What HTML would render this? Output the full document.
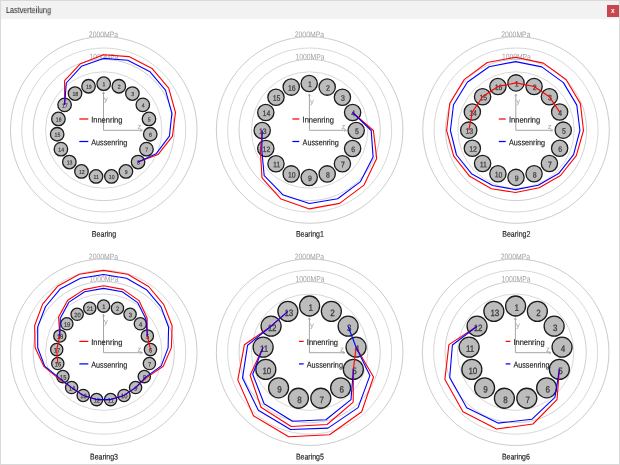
<!DOCTYPE html>
<html><head><meta charset="utf-8"><title>Lastverteilung</title>
<style>
html,body{margin:0;padding:0;background:#fff;}
body{width:620px;height:465px;position:relative;overflow:hidden;font-family:"Liberation Sans",sans-serif;}
#win{position:absolute;left:0;top:0;width:620px;height:465px;box-sizing:border-box;border:1px solid #d9d9d9;border-right-width:1.4px;border-bottom-width:1.4px;background:#fff;}
#tb{position:absolute;left:1px;top:1px;width:617.6px;height:18.0px;background:#f2f2f2;}
#title{will-change:transform;position:absolute;left:5.6px;top:5.7px;font-size:8.2px;line-height:10px;color:#1a1a1a;white-space:nowrap;transform-origin:left top;transform:rotate(0.3deg) scaleX(0.885);}
#close{will-change:transform;position:absolute;left:607.1px;top:4.9px;width:11.7px;height:11.6px;background:#c8464d;color:#fff;font-size:6.5px;line-height:11.4px;text-align:center;font-weight:bold;}
svg{position:absolute;left:0;top:0;will-change:transform;}
svg text{font-family:"Liberation Sans",sans-serif;}
</style></head><body>
<div id="win"></div>
<div id="tb"></div>
<div id="title">Lastverteilung</div>
<div id="close">x</div>
<svg width="620" height="465" viewBox="0 0 620 465">
<g>
<circle cx="103.75" cy="130.0" r="58.2" fill="none" stroke="#cbcbcb" stroke-width="0.75"/>
<circle cx="103.75" cy="130.0" r="70.6" fill="none" stroke="#bfbfbf" stroke-width="0.75"/>
<circle cx="103.75" cy="130.0" r="82.0" fill="none" stroke="#cbcbcb" stroke-width="0.75"/>
<circle cx="103.75" cy="130.0" r="93.3" fill="none" stroke="#b9b9b9" stroke-width="0.75"/>
<text transform="translate(103.50,37.20) rotate(0.35)" font-size="8.2" fill="#a2a2a2" text-anchor="middle" textLength="29.3" lengthAdjust="spacingAndGlyphs">2000MPa</text>
<text transform="translate(104.10,59.60) rotate(0.35)" font-size="8.2" fill="#a2a2a2" text-anchor="middle" textLength="29.0" lengthAdjust="spacingAndGlyphs">1000MPa</text>
<circle cx="103.70" cy="83.70" r="6.75" fill="#bcbcbc" stroke="#1c1c1c" stroke-width="1.3"/>
<text transform="translate(103.95,86.25) rotate(0.4) scale(0.9,1)" text-anchor="middle" font-size="5.7" fill="#3a3a3a" stroke="#3a3a3a" stroke-width="0.17">1</text>
<circle cx="118.86" cy="86.23" r="6.75" fill="#bcbcbc" stroke="#1c1c1c" stroke-width="1.3"/>
<text transform="translate(119.11,88.78) rotate(0.4) scale(0.9,1)" text-anchor="middle" font-size="5.7" fill="#3a3a3a" stroke="#3a3a3a" stroke-width="0.17">2</text>
<circle cx="132.38" cy="93.55" r="6.75" fill="#bcbcbc" stroke="#1c1c1c" stroke-width="1.3"/>
<text transform="translate(132.63,96.10) rotate(0.4) scale(0.9,1)" text-anchor="middle" font-size="5.7" fill="#3a3a3a" stroke="#3a3a3a" stroke-width="0.17">3</text>
<circle cx="142.80" cy="104.86" r="6.75" fill="#bcbcbc" stroke="#1c1c1c" stroke-width="1.3"/>
<text transform="translate(143.05,107.41) rotate(0.4) scale(0.9,1)" text-anchor="middle" font-size="5.7" fill="#3a3a3a" stroke="#3a3a3a" stroke-width="0.17">4</text>
<circle cx="148.97" cy="118.94" r="6.75" fill="#bcbcbc" stroke="#1c1c1c" stroke-width="1.3"/>
<text transform="translate(149.22,121.49) rotate(0.4) scale(0.9,1)" text-anchor="middle" font-size="5.7" fill="#3a3a3a" stroke="#3a3a3a" stroke-width="0.17">5</text>
<circle cx="150.24" cy="134.26" r="6.75" fill="#bcbcbc" stroke="#1c1c1c" stroke-width="1.3"/>
<text transform="translate(150.49,136.81) rotate(0.4) scale(0.9,1)" text-anchor="middle" font-size="5.7" fill="#3a3a3a" stroke="#3a3a3a" stroke-width="0.17">6</text>
<circle cx="146.47" cy="149.16" r="6.75" fill="#bcbcbc" stroke="#1c1c1c" stroke-width="1.3"/>
<text transform="translate(146.72,151.71) rotate(0.4) scale(0.9,1)" text-anchor="middle" font-size="5.7" fill="#3a3a3a" stroke="#3a3a3a" stroke-width="0.17">7</text>
<circle cx="138.06" cy="162.03" r="6.75" fill="#bcbcbc" stroke="#1c1c1c" stroke-width="1.3"/>
<text transform="translate(138.31,164.58) rotate(0.4) scale(0.9,1)" text-anchor="middle" font-size="5.7" fill="#3a3a3a" stroke="#3a3a3a" stroke-width="0.17">8</text>
<circle cx="125.93" cy="171.47" r="6.75" fill="#bcbcbc" stroke="#1c1c1c" stroke-width="1.3"/>
<text transform="translate(126.18,174.02) rotate(0.4) scale(0.9,1)" text-anchor="middle" font-size="5.7" fill="#3a3a3a" stroke="#3a3a3a" stroke-width="0.17">9</text>
<circle cx="111.39" cy="176.46" r="6.75" fill="#bcbcbc" stroke="#1c1c1c" stroke-width="1.3"/>
<text transform="translate(111.64,179.01) rotate(0.4) scale(0.9,1)" text-anchor="middle" font-size="5.7" fill="#3a3a3a" stroke="#3a3a3a" stroke-width="0.17">10</text>
<circle cx="96.01" cy="176.46" r="6.75" fill="#bcbcbc" stroke="#1c1c1c" stroke-width="1.3"/>
<text transform="translate(96.26,179.01) rotate(0.4) scale(0.9,1)" text-anchor="middle" font-size="5.7" fill="#3a3a3a" stroke="#3a3a3a" stroke-width="0.17">11</text>
<circle cx="81.47" cy="171.47" r="6.75" fill="#bcbcbc" stroke="#1c1c1c" stroke-width="1.3"/>
<text transform="translate(81.72,174.02) rotate(0.4) scale(0.9,1)" text-anchor="middle" font-size="5.7" fill="#3a3a3a" stroke="#3a3a3a" stroke-width="0.17">12</text>
<circle cx="69.34" cy="162.03" r="6.75" fill="#bcbcbc" stroke="#1c1c1c" stroke-width="1.3"/>
<text transform="translate(69.59,164.58) rotate(0.4) scale(0.9,1)" text-anchor="middle" font-size="5.7" fill="#3a3a3a" stroke="#3a3a3a" stroke-width="0.17">13</text>
<circle cx="60.93" cy="149.16" r="6.75" fill="#bcbcbc" stroke="#1c1c1c" stroke-width="1.3"/>
<text transform="translate(61.18,151.71) rotate(0.4) scale(0.9,1)" text-anchor="middle" font-size="5.7" fill="#3a3a3a" stroke="#3a3a3a" stroke-width="0.17">14</text>
<circle cx="57.16" cy="134.26" r="6.75" fill="#bcbcbc" stroke="#1c1c1c" stroke-width="1.3"/>
<text transform="translate(57.41,136.81) rotate(0.4) scale(0.9,1)" text-anchor="middle" font-size="5.7" fill="#3a3a3a" stroke="#3a3a3a" stroke-width="0.17">15</text>
<circle cx="58.43" cy="118.94" r="6.75" fill="#bcbcbc" stroke="#1c1c1c" stroke-width="1.3"/>
<text transform="translate(58.68,121.49) rotate(0.4) scale(0.9,1)" text-anchor="middle" font-size="5.7" fill="#3a3a3a" stroke="#3a3a3a" stroke-width="0.17">16</text>
<circle cx="64.60" cy="104.86" r="6.75" fill="#bcbcbc" stroke="#1c1c1c" stroke-width="1.3"/>
<text transform="translate(64.85,107.41) rotate(0.4) scale(0.9,1)" text-anchor="middle" font-size="5.7" fill="#3a3a3a" stroke="#3a3a3a" stroke-width="0.17">17</text>
<circle cx="75.02" cy="93.55" r="6.75" fill="#bcbcbc" stroke="#1c1c1c" stroke-width="1.3"/>
<text transform="translate(75.27,96.10) rotate(0.4) scale(0.9,1)" text-anchor="middle" font-size="5.7" fill="#3a3a3a" stroke="#3a3a3a" stroke-width="0.17">18</text>
<circle cx="88.54" cy="86.23" r="6.75" fill="#bcbcbc" stroke="#1c1c1c" stroke-width="1.3"/>
<text transform="translate(88.79,88.78) rotate(0.4) scale(0.9,1)" text-anchor="middle" font-size="5.7" fill="#3a3a3a" stroke="#3a3a3a" stroke-width="0.17">19</text>
<path d="M103.5 91.80000000000001 V130.3 H142.5" fill="none" stroke="#a6a6a6" stroke-width="1.0"/>
<path d="M102.3 94.00000000000001 L103.5 91.80000000000001 L104.7 94.00000000000001" fill="none" stroke="#a6a6a6" stroke-width="0.7"/>
<path d="M140.3 129.10000000000002 L142.5 130.3 L140.3 131.5" fill="none" stroke="#a6a6a6" stroke-width="0.7"/>
<text transform="translate(104.00,101.60) rotate(0.35)" font-size="7.6" fill="#a2a2a2">y</text>
<text transform="translate(137.50,128.90) rotate(0.35)" font-size="7.6" fill="#a2a2a2">z</text>
<line x1="79.3" y1="119.0" x2="88.3" y2="119.0" stroke="#ff0000" stroke-width="1.25"/>
<line x1="79.3" y1="141.5" x2="88.3" y2="141.5" stroke="#0000ff" stroke-width="1.25"/>
<text transform="translate(91.20,122.60) rotate(0.35)" font-size="8.3" fill="#1a1a1a" textLength="31.2" lengthAdjust="spacingAndGlyphs" stroke="#1a1a1a" stroke-width="0.15">Innenring</text>
<text transform="translate(91.20,145.20) rotate(0.35)" font-size="8.3" fill="#1a1a1a" textLength="36.1" lengthAdjust="spacingAndGlyphs" stroke="#1a1a1a" stroke-width="0.15">Aussenring</text>
<polyline points="64.6,104.9 64.6,80.7 80.5,63.7 103.5,54.8 128.9,56.6 152.0,68.4 168.7,88.1 175.5,112.5 172.4,136.4 158.0,154.6 138.1,162.0" fill="none" stroke="#ff0000" stroke-width="1.1" stroke-linejoin="round"/>
<polyline points="64.6,104.9 66.3,83.0 81.4,66.3 103.5,58.4 127.7,60.2 149.6,71.4 165.5,90.2 171.9,113.4 169.4,136.2 156.1,153.8 138.1,162.0" fill="none" stroke="#0000ff" stroke-width="1.1" stroke-linejoin="round"/>
<text transform="translate(104.00,236.80) rotate(0.35)" font-size="8.3" fill="#1a1a1a" text-anchor="middle" textLength="24.3" lengthAdjust="spacingAndGlyphs" stroke="#1a1a1a" stroke-width="0.15">Bearing</text>
</g>
<g>
<circle cx="309.65" cy="130.0" r="58.2" fill="none" stroke="#cbcbcb" stroke-width="0.75"/>
<circle cx="309.65" cy="130.0" r="70.6" fill="none" stroke="#bfbfbf" stroke-width="0.75"/>
<circle cx="309.65" cy="130.0" r="82.0" fill="none" stroke="#cbcbcb" stroke-width="0.75"/>
<circle cx="309.65" cy="130.0" r="93.3" fill="none" stroke="#b9b9b9" stroke-width="0.75"/>
<text transform="translate(309.40,37.20) rotate(0.35)" font-size="8.2" fill="#a2a2a2" text-anchor="middle" textLength="29.3" lengthAdjust="spacingAndGlyphs">2000MPa</text>
<text transform="translate(310.00,59.60) rotate(0.35)" font-size="8.2" fill="#a2a2a2" text-anchor="middle" textLength="29.0" lengthAdjust="spacingAndGlyphs">1000MPa</text>
<circle cx="309.20" cy="83.50" r="8.15" fill="#bcbcbc" stroke="#1c1c1c" stroke-width="1.3"/>
<text transform="translate(309.80,87.10) rotate(0.4) scale(0.87,1)" text-anchor="middle" font-size="7.9" fill="#3a3a3a" stroke="#3a3a3a" stroke-width="0.24">1</text>
<circle cx="327.19" cy="87.08" r="8.15" fill="#bcbcbc" stroke="#1c1c1c" stroke-width="1.3"/>
<text transform="translate(327.79,90.68) rotate(0.4) scale(0.87,1)" text-anchor="middle" font-size="7.9" fill="#3a3a3a" stroke="#3a3a3a" stroke-width="0.24">2</text>
<circle cx="342.43" cy="97.27" r="8.15" fill="#bcbcbc" stroke="#1c1c1c" stroke-width="1.3"/>
<text transform="translate(343.03,100.87) rotate(0.4) scale(0.87,1)" text-anchor="middle" font-size="7.9" fill="#3a3a3a" stroke="#3a3a3a" stroke-width="0.24">3</text>
<circle cx="352.62" cy="112.51" r="8.15" fill="#bcbcbc" stroke="#1c1c1c" stroke-width="1.3"/>
<text transform="translate(353.22,116.11) rotate(0.4) scale(0.87,1)" text-anchor="middle" font-size="7.9" fill="#3a3a3a" stroke="#3a3a3a" stroke-width="0.24">4</text>
<circle cx="356.20" cy="130.50" r="8.15" fill="#bcbcbc" stroke="#1c1c1c" stroke-width="1.3"/>
<text transform="translate(356.80,134.10) rotate(0.4) scale(0.87,1)" text-anchor="middle" font-size="7.9" fill="#3a3a3a" stroke="#3a3a3a" stroke-width="0.24">5</text>
<circle cx="352.62" cy="148.49" r="8.15" fill="#bcbcbc" stroke="#1c1c1c" stroke-width="1.3"/>
<text transform="translate(353.22,152.09) rotate(0.4) scale(0.87,1)" text-anchor="middle" font-size="7.9" fill="#3a3a3a" stroke="#3a3a3a" stroke-width="0.24">6</text>
<circle cx="342.43" cy="163.73" r="8.15" fill="#bcbcbc" stroke="#1c1c1c" stroke-width="1.3"/>
<text transform="translate(343.03,167.33) rotate(0.4) scale(0.87,1)" text-anchor="middle" font-size="7.9" fill="#3a3a3a" stroke="#3a3a3a" stroke-width="0.24">7</text>
<circle cx="327.19" cy="173.92" r="8.15" fill="#bcbcbc" stroke="#1c1c1c" stroke-width="1.3"/>
<text transform="translate(327.79,177.52) rotate(0.4) scale(0.87,1)" text-anchor="middle" font-size="7.9" fill="#3a3a3a" stroke="#3a3a3a" stroke-width="0.24">8</text>
<circle cx="309.20" cy="177.50" r="8.15" fill="#bcbcbc" stroke="#1c1c1c" stroke-width="1.3"/>
<text transform="translate(309.80,181.10) rotate(0.4) scale(0.87,1)" text-anchor="middle" font-size="7.9" fill="#3a3a3a" stroke="#3a3a3a" stroke-width="0.24">9</text>
<circle cx="291.21" cy="173.92" r="8.15" fill="#bcbcbc" stroke="#1c1c1c" stroke-width="1.3"/>
<text transform="translate(291.81,177.52) rotate(0.4) scale(0.87,1)" text-anchor="middle" font-size="7.9" fill="#3a3a3a" stroke="#3a3a3a" stroke-width="0.24">10</text>
<circle cx="275.97" cy="163.73" r="8.15" fill="#bcbcbc" stroke="#1c1c1c" stroke-width="1.3"/>
<text transform="translate(276.57,167.33) rotate(0.4) scale(0.87,1)" text-anchor="middle" font-size="7.9" fill="#3a3a3a" stroke="#3a3a3a" stroke-width="0.24">11</text>
<circle cx="265.78" cy="148.49" r="8.15" fill="#bcbcbc" stroke="#1c1c1c" stroke-width="1.3"/>
<text transform="translate(266.38,152.09) rotate(0.4) scale(0.87,1)" text-anchor="middle" font-size="7.9" fill="#3a3a3a" stroke="#3a3a3a" stroke-width="0.24">12</text>
<circle cx="262.20" cy="130.50" r="8.15" fill="#bcbcbc" stroke="#1c1c1c" stroke-width="1.3"/>
<text transform="translate(262.80,134.10) rotate(0.4) scale(0.87,1)" text-anchor="middle" font-size="7.9" fill="#3a3a3a" stroke="#3a3a3a" stroke-width="0.24">13</text>
<circle cx="265.78" cy="112.51" r="8.15" fill="#bcbcbc" stroke="#1c1c1c" stroke-width="1.3"/>
<text transform="translate(266.38,116.11) rotate(0.4) scale(0.87,1)" text-anchor="middle" font-size="7.9" fill="#3a3a3a" stroke="#3a3a3a" stroke-width="0.24">14</text>
<circle cx="275.97" cy="97.27" r="8.15" fill="#bcbcbc" stroke="#1c1c1c" stroke-width="1.3"/>
<text transform="translate(276.57,100.87) rotate(0.4) scale(0.87,1)" text-anchor="middle" font-size="7.9" fill="#3a3a3a" stroke="#3a3a3a" stroke-width="0.24">15</text>
<circle cx="291.21" cy="87.08" r="8.15" fill="#bcbcbc" stroke="#1c1c1c" stroke-width="1.3"/>
<text transform="translate(291.81,90.68) rotate(0.4) scale(0.87,1)" text-anchor="middle" font-size="7.9" fill="#3a3a3a" stroke="#3a3a3a" stroke-width="0.24">16</text>
<path d="M309.4 94.00000000000001 V130.3 H346.4" fill="none" stroke="#a6a6a6" stroke-width="1.0"/>
<path d="M308.2 96.20000000000002 L309.4 94.00000000000001 L310.59999999999997 96.20000000000002" fill="none" stroke="#a6a6a6" stroke-width="0.7"/>
<path d="M344.2 129.10000000000002 L346.4 130.3 L344.2 131.5" fill="none" stroke="#a6a6a6" stroke-width="0.7"/>
<text transform="translate(309.90,103.80) rotate(0.35)" font-size="7.6" fill="#a2a2a2">y</text>
<text transform="translate(341.40,128.90) rotate(0.35)" font-size="7.6" fill="#a2a2a2">z</text>
<line x1="292.4" y1="119.0" x2="299.3" y2="119.0" stroke="#ff0000" stroke-width="1.25"/>
<line x1="292.4" y1="141.5" x2="299.3" y2="141.5" stroke="#0000ff" stroke-width="1.25"/>
<text transform="translate(302.60,122.60) rotate(0.35)" font-size="8.3" fill="#1a1a1a" textLength="31.2" lengthAdjust="spacingAndGlyphs" stroke="#1a1a1a" stroke-width="0.15">Innenring</text>
<text transform="translate(302.60,145.20) rotate(0.35)" font-size="8.3" fill="#1a1a1a" textLength="36.1" lengthAdjust="spacingAndGlyphs" stroke="#1a1a1a" stroke-width="0.15">Aussenring</text>
<polyline points="352.6,112.5 373.4,130.5 376.7,158.4 364.0,185.1 339.6,203.4 309.4,208.9 281.0,199.1 262.0,177.9 260.4,150.8 262.2,130.5" fill="none" stroke="#ff0000" stroke-width="1.1" stroke-linejoin="round"/>
<polyline points="352.6,112.5 371.2,130.5 373.1,156.9 360.5,181.6 337.7,198.8 309.4,203.5 282.8,194.7 264.2,175.7 261.8,150.2 262.2,130.5" fill="none" stroke="#0000ff" stroke-width="1.1" stroke-linejoin="round"/>
<text transform="translate(309.90,236.80) rotate(0.35)" font-size="8.3" fill="#1a1a1a" text-anchor="middle" textLength="28.0" lengthAdjust="spacingAndGlyphs" stroke="#1a1a1a" stroke-width="0.15">Bearing1</text>
</g>
<g>
<circle cx="516.05" cy="130.0" r="58.2" fill="none" stroke="#cbcbcb" stroke-width="0.75"/>
<circle cx="516.05" cy="130.0" r="70.6" fill="none" stroke="#bfbfbf" stroke-width="0.75"/>
<circle cx="516.05" cy="130.0" r="82.0" fill="none" stroke="#cbcbcb" stroke-width="0.75"/>
<circle cx="516.05" cy="130.0" r="93.3" fill="none" stroke="#b9b9b9" stroke-width="0.75"/>
<text transform="translate(515.80,37.20) rotate(0.35)" font-size="8.2" fill="#a2a2a2" text-anchor="middle" textLength="29.3" lengthAdjust="spacingAndGlyphs">2000MPa</text>
<text transform="translate(516.40,59.60) rotate(0.35)" font-size="8.2" fill="#a2a2a2" text-anchor="middle" textLength="29.0" lengthAdjust="spacingAndGlyphs">1000MPa</text>
<circle cx="516.00" cy="82.90" r="8.15" fill="#bcbcbc" stroke="#1c1c1c" stroke-width="1.3"/>
<text transform="translate(516.60,86.50) rotate(0.4) scale(0.87,1)" text-anchor="middle" font-size="7.9" fill="#3a3a3a" stroke="#3a3a3a" stroke-width="0.24">1</text>
<circle cx="534.08" cy="86.50" r="8.15" fill="#bcbcbc" stroke="#1c1c1c" stroke-width="1.3"/>
<text transform="translate(534.68,90.10) rotate(0.4) scale(0.87,1)" text-anchor="middle" font-size="7.9" fill="#3a3a3a" stroke="#3a3a3a" stroke-width="0.24">2</text>
<circle cx="549.41" cy="96.74" r="8.15" fill="#bcbcbc" stroke="#1c1c1c" stroke-width="1.3"/>
<text transform="translate(550.01,100.34) rotate(0.4) scale(0.87,1)" text-anchor="middle" font-size="7.9" fill="#3a3a3a" stroke="#3a3a3a" stroke-width="0.24">3</text>
<circle cx="559.65" cy="112.07" r="8.15" fill="#bcbcbc" stroke="#1c1c1c" stroke-width="1.3"/>
<text transform="translate(560.25,115.67) rotate(0.4) scale(0.87,1)" text-anchor="middle" font-size="7.9" fill="#3a3a3a" stroke="#3a3a3a" stroke-width="0.24">4</text>
<circle cx="563.25" cy="130.15" r="8.15" fill="#bcbcbc" stroke="#1c1c1c" stroke-width="1.3"/>
<text transform="translate(563.85,133.75) rotate(0.4) scale(0.87,1)" text-anchor="middle" font-size="7.9" fill="#3a3a3a" stroke="#3a3a3a" stroke-width="0.24">5</text>
<circle cx="559.65" cy="148.23" r="8.15" fill="#bcbcbc" stroke="#1c1c1c" stroke-width="1.3"/>
<text transform="translate(560.25,151.83) rotate(0.4) scale(0.87,1)" text-anchor="middle" font-size="7.9" fill="#3a3a3a" stroke="#3a3a3a" stroke-width="0.24">6</text>
<circle cx="549.41" cy="163.56" r="8.15" fill="#bcbcbc" stroke="#1c1c1c" stroke-width="1.3"/>
<text transform="translate(550.01,167.16) rotate(0.4) scale(0.87,1)" text-anchor="middle" font-size="7.9" fill="#3a3a3a" stroke="#3a3a3a" stroke-width="0.24">7</text>
<circle cx="534.08" cy="173.80" r="8.15" fill="#bcbcbc" stroke="#1c1c1c" stroke-width="1.3"/>
<text transform="translate(534.68,177.40) rotate(0.4) scale(0.87,1)" text-anchor="middle" font-size="7.9" fill="#3a3a3a" stroke="#3a3a3a" stroke-width="0.24">8</text>
<circle cx="516.00" cy="177.40" r="8.15" fill="#bcbcbc" stroke="#1c1c1c" stroke-width="1.3"/>
<text transform="translate(516.60,181.00) rotate(0.4) scale(0.87,1)" text-anchor="middle" font-size="7.9" fill="#3a3a3a" stroke="#3a3a3a" stroke-width="0.24">9</text>
<circle cx="497.92" cy="173.80" r="8.15" fill="#bcbcbc" stroke="#1c1c1c" stroke-width="1.3"/>
<text transform="translate(498.52,177.40) rotate(0.4) scale(0.87,1)" text-anchor="middle" font-size="7.9" fill="#3a3a3a" stroke="#3a3a3a" stroke-width="0.24">10</text>
<circle cx="482.59" cy="163.56" r="8.15" fill="#bcbcbc" stroke="#1c1c1c" stroke-width="1.3"/>
<text transform="translate(483.19,167.16) rotate(0.4) scale(0.87,1)" text-anchor="middle" font-size="7.9" fill="#3a3a3a" stroke="#3a3a3a" stroke-width="0.24">11</text>
<circle cx="472.35" cy="148.23" r="8.15" fill="#bcbcbc" stroke="#1c1c1c" stroke-width="1.3"/>
<text transform="translate(472.95,151.83) rotate(0.4) scale(0.87,1)" text-anchor="middle" font-size="7.9" fill="#3a3a3a" stroke="#3a3a3a" stroke-width="0.24">12</text>
<circle cx="468.75" cy="130.15" r="8.15" fill="#bcbcbc" stroke="#1c1c1c" stroke-width="1.3"/>
<text transform="translate(469.35,133.75) rotate(0.4) scale(0.87,1)" text-anchor="middle" font-size="7.9" fill="#3a3a3a" stroke="#3a3a3a" stroke-width="0.24">13</text>
<circle cx="472.35" cy="112.07" r="8.15" fill="#bcbcbc" stroke="#1c1c1c" stroke-width="1.3"/>
<text transform="translate(472.95,115.67) rotate(0.4) scale(0.87,1)" text-anchor="middle" font-size="7.9" fill="#3a3a3a" stroke="#3a3a3a" stroke-width="0.24">14</text>
<circle cx="482.59" cy="96.74" r="8.15" fill="#bcbcbc" stroke="#1c1c1c" stroke-width="1.3"/>
<text transform="translate(483.19,100.34) rotate(0.4) scale(0.87,1)" text-anchor="middle" font-size="7.9" fill="#3a3a3a" stroke="#3a3a3a" stroke-width="0.24">15</text>
<circle cx="497.92" cy="86.50" r="8.15" fill="#bcbcbc" stroke="#1c1c1c" stroke-width="1.3"/>
<text transform="translate(498.52,90.10) rotate(0.4) scale(0.87,1)" text-anchor="middle" font-size="7.9" fill="#3a3a3a" stroke="#3a3a3a" stroke-width="0.24">16</text>
<path d="M515.8 94.00000000000001 V130.3 H552.8" fill="none" stroke="#a6a6a6" stroke-width="1.0"/>
<path d="M514.5999999999999 96.20000000000002 L515.8 94.00000000000001 L517.0 96.20000000000002" fill="none" stroke="#a6a6a6" stroke-width="0.7"/>
<path d="M550.5999999999999 129.10000000000002 L552.8 130.3 L550.5999999999999 131.5" fill="none" stroke="#a6a6a6" stroke-width="0.7"/>
<text transform="translate(516.30,103.80) rotate(0.35)" font-size="7.6" fill="#a2a2a2">y</text>
<text transform="translate(547.80,128.90) rotate(0.35)" font-size="7.6" fill="#a2a2a2">z</text>
<line x1="498.8" y1="119.0" x2="505.7" y2="119.0" stroke="#ff0000" stroke-width="1.25"/>
<line x1="498.8" y1="141.5" x2="505.7" y2="141.5" stroke="#0000ff" stroke-width="1.25"/>
<text transform="translate(509.00,122.60) rotate(0.35)" font-size="8.3" fill="#1a1a1a" textLength="31.2" lengthAdjust="spacingAndGlyphs" stroke="#1a1a1a" stroke-width="0.15">Innenring</text>
<text transform="translate(509.00,145.20) rotate(0.35)" font-size="8.3" fill="#1a1a1a" textLength="36.1" lengthAdjust="spacingAndGlyphs" stroke="#1a1a1a" stroke-width="0.15">Aussenring</text>
<polyline points="468.8,130.2 472.3,112.1 482.6,96.7 497.9,86.5 516.0,82.9 534.1,86.5 549.4,96.7 559.7,112.1" fill="none" stroke="#ff0000" stroke-width="1.1" stroke-linejoin="round"/>
<polygon points="515.5,57.2 543.4,63.1 566.2,79.8 580.4,103.6 583.5,130.5 576.3,155.7 560.5,175.5 539.2,187.7 515.5,192.5 491.4,188.7 469.7,176.3 453.7,156.1 446.6,130.5 449.8,103.3 464.4,79.4 487.3,62.5" fill="none" stroke="#ff0000" stroke-width="1.1" stroke-linejoin="round"/>
<polygon points="515.5,61.6 541.8,66.9 563.4,82.6 576.8,105.1 579.9,130.5 573.6,154.6 558.6,173.6 538.2,185.2 515.5,189.6 492.7,185.5 471.9,174.1 456.5,155.0 450.4,130.5 453.5,104.8 467.3,82.3 489.1,66.8" fill="none" stroke="#0000ff" stroke-width="1.1" stroke-linejoin="round"/>
<text transform="translate(516.30,236.80) rotate(0.35)" font-size="8.3" fill="#1a1a1a" text-anchor="middle" textLength="28.0" lengthAdjust="spacingAndGlyphs" stroke="#1a1a1a" stroke-width="0.15">Bearing2</text>
</g>
<g>
<circle cx="103.75" cy="352.2" r="58.2" fill="none" stroke="#cbcbcb" stroke-width="0.75"/>
<circle cx="103.75" cy="352.2" r="70.6" fill="none" stroke="#bfbfbf" stroke-width="0.75"/>
<circle cx="103.75" cy="352.2" r="82.0" fill="none" stroke="#cbcbcb" stroke-width="0.75"/>
<circle cx="103.75" cy="352.2" r="93.3" fill="none" stroke="#b9b9b9" stroke-width="0.75"/>
<text transform="translate(103.50,259.40) rotate(0.35)" font-size="8.2" fill="#a2a2a2" text-anchor="middle" textLength="29.3" lengthAdjust="spacingAndGlyphs">2000MPa</text>
<text transform="translate(104.10,281.80) rotate(0.35)" font-size="8.2" fill="#a2a2a2" text-anchor="middle" textLength="29.0" lengthAdjust="spacingAndGlyphs">1000MPa</text>
<circle cx="103.60" cy="306.10" r="6.15" fill="#bcbcbc" stroke="#1c1c1c" stroke-width="1.3"/>
<text transform="translate(103.85,309.00) rotate(0.4) scale(0.9,1)" text-anchor="middle" font-size="6.4" fill="#3a3a3a" stroke="#3a3a3a" stroke-width="0.19">1</text>
<circle cx="117.45" cy="308.19" r="6.15" fill="#bcbcbc" stroke="#1c1c1c" stroke-width="1.3"/>
<text transform="translate(117.70,311.09) rotate(0.4) scale(0.9,1)" text-anchor="middle" font-size="6.4" fill="#3a3a3a" stroke="#3a3a3a" stroke-width="0.19">2</text>
<circle cx="130.08" cy="314.27" r="6.15" fill="#bcbcbc" stroke="#1c1c1c" stroke-width="1.3"/>
<text transform="translate(130.33,317.17) rotate(0.4) scale(0.9,1)" text-anchor="middle" font-size="6.4" fill="#3a3a3a" stroke="#3a3a3a" stroke-width="0.19">3</text>
<circle cx="140.35" cy="323.80" r="6.15" fill="#bcbcbc" stroke="#1c1c1c" stroke-width="1.3"/>
<text transform="translate(140.60,326.70) rotate(0.4) scale(0.9,1)" text-anchor="middle" font-size="6.4" fill="#3a3a3a" stroke="#3a3a3a" stroke-width="0.19">4</text>
<circle cx="147.35" cy="335.93" r="6.15" fill="#bcbcbc" stroke="#1c1c1c" stroke-width="1.3"/>
<text transform="translate(147.60,338.83) rotate(0.4) scale(0.9,1)" text-anchor="middle" font-size="6.4" fill="#3a3a3a" stroke="#3a3a3a" stroke-width="0.19">5</text>
<circle cx="150.47" cy="349.59" r="6.15" fill="#bcbcbc" stroke="#1c1c1c" stroke-width="1.3"/>
<text transform="translate(150.72,352.49) rotate(0.4) scale(0.9,1)" text-anchor="middle" font-size="6.4" fill="#3a3a3a" stroke="#3a3a3a" stroke-width="0.19">6</text>
<circle cx="149.42" cy="363.56" r="6.15" fill="#bcbcbc" stroke="#1c1c1c" stroke-width="1.3"/>
<text transform="translate(149.67,366.46) rotate(0.4) scale(0.9,1)" text-anchor="middle" font-size="6.4" fill="#3a3a3a" stroke="#3a3a3a" stroke-width="0.19">7</text>
<circle cx="144.30" cy="376.60" r="6.15" fill="#bcbcbc" stroke="#1c1c1c" stroke-width="1.3"/>
<text transform="translate(144.55,379.50) rotate(0.4) scale(0.9,1)" text-anchor="middle" font-size="6.4" fill="#3a3a3a" stroke="#3a3a3a" stroke-width="0.19">8</text>
<circle cx="135.57" cy="387.55" r="6.15" fill="#bcbcbc" stroke="#1c1c1c" stroke-width="1.3"/>
<text transform="translate(135.82,390.45) rotate(0.4) scale(0.9,1)" text-anchor="middle" font-size="6.4" fill="#3a3a3a" stroke="#3a3a3a" stroke-width="0.19">9</text>
<circle cx="123.99" cy="395.45" r="6.15" fill="#bcbcbc" stroke="#1c1c1c" stroke-width="1.3"/>
<text transform="translate(124.24,398.35) rotate(0.4) scale(0.9,1)" text-anchor="middle" font-size="6.4" fill="#3a3a3a" stroke="#3a3a3a" stroke-width="0.19">10</text>
<circle cx="110.60" cy="399.58" r="6.15" fill="#bcbcbc" stroke="#1c1c1c" stroke-width="1.3"/>
<text transform="translate(110.85,402.48) rotate(0.4) scale(0.9,1)" text-anchor="middle" font-size="6.4" fill="#3a3a3a" stroke="#3a3a3a" stroke-width="0.19">11</text>
<circle cx="96.60" cy="399.58" r="6.15" fill="#bcbcbc" stroke="#1c1c1c" stroke-width="1.3"/>
<text transform="translate(96.85,402.48) rotate(0.4) scale(0.9,1)" text-anchor="middle" font-size="6.4" fill="#3a3a3a" stroke="#3a3a3a" stroke-width="0.19">12</text>
<circle cx="83.21" cy="395.45" r="6.15" fill="#bcbcbc" stroke="#1c1c1c" stroke-width="1.3"/>
<text transform="translate(83.46,398.35) rotate(0.4) scale(0.9,1)" text-anchor="middle" font-size="6.4" fill="#3a3a3a" stroke="#3a3a3a" stroke-width="0.19">13</text>
<circle cx="71.63" cy="387.55" r="6.15" fill="#bcbcbc" stroke="#1c1c1c" stroke-width="1.3"/>
<text transform="translate(71.88,390.45) rotate(0.4) scale(0.9,1)" text-anchor="middle" font-size="6.4" fill="#3a3a3a" stroke="#3a3a3a" stroke-width="0.19">14</text>
<circle cx="62.90" cy="376.60" r="6.15" fill="#bcbcbc" stroke="#1c1c1c" stroke-width="1.3"/>
<text transform="translate(63.15,379.50) rotate(0.4) scale(0.9,1)" text-anchor="middle" font-size="6.4" fill="#3a3a3a" stroke="#3a3a3a" stroke-width="0.19">15</text>
<circle cx="57.78" cy="363.56" r="6.15" fill="#bcbcbc" stroke="#1c1c1c" stroke-width="1.3"/>
<text transform="translate(58.03,366.46) rotate(0.4) scale(0.9,1)" text-anchor="middle" font-size="6.4" fill="#3a3a3a" stroke="#3a3a3a" stroke-width="0.19">16</text>
<circle cx="56.73" cy="349.59" r="6.15" fill="#bcbcbc" stroke="#1c1c1c" stroke-width="1.3"/>
<text transform="translate(56.98,352.49) rotate(0.4) scale(0.9,1)" text-anchor="middle" font-size="6.4" fill="#3a3a3a" stroke="#3a3a3a" stroke-width="0.19">17</text>
<circle cx="59.85" cy="335.93" r="6.15" fill="#bcbcbc" stroke="#1c1c1c" stroke-width="1.3"/>
<text transform="translate(60.10,338.83) rotate(0.4) scale(0.9,1)" text-anchor="middle" font-size="6.4" fill="#3a3a3a" stroke="#3a3a3a" stroke-width="0.19">18</text>
<circle cx="66.85" cy="323.80" r="6.15" fill="#bcbcbc" stroke="#1c1c1c" stroke-width="1.3"/>
<text transform="translate(67.10,326.70) rotate(0.4) scale(0.9,1)" text-anchor="middle" font-size="6.4" fill="#3a3a3a" stroke="#3a3a3a" stroke-width="0.19">19</text>
<circle cx="77.12" cy="314.27" r="6.15" fill="#bcbcbc" stroke="#1c1c1c" stroke-width="1.3"/>
<text transform="translate(77.37,317.17) rotate(0.4) scale(0.9,1)" text-anchor="middle" font-size="6.4" fill="#3a3a3a" stroke="#3a3a3a" stroke-width="0.19">20</text>
<circle cx="89.75" cy="308.19" r="6.15" fill="#bcbcbc" stroke="#1c1c1c" stroke-width="1.3"/>
<text transform="translate(90.00,311.09) rotate(0.4) scale(0.9,1)" text-anchor="middle" font-size="6.4" fill="#3a3a3a" stroke="#3a3a3a" stroke-width="0.19">21</text>
<path d="M103.5 314.2 V352.7 H142.5" fill="none" stroke="#a6a6a6" stroke-width="1.0"/>
<path d="M102.3 316.4 L103.5 314.2 L104.7 316.4" fill="none" stroke="#a6a6a6" stroke-width="0.7"/>
<path d="M140.3 351.5 L142.5 352.7 L140.3 353.9" fill="none" stroke="#a6a6a6" stroke-width="0.7"/>
<text transform="translate(104.00,324.00) rotate(0.35)" font-size="7.6" fill="#a2a2a2">y</text>
<text transform="translate(137.50,351.80) rotate(0.35)" font-size="7.6" fill="#a2a2a2">z</text>
<line x1="79.3" y1="341.4" x2="88.3" y2="341.4" stroke="#ff0000" stroke-width="1.25"/>
<line x1="79.3" y1="363.9" x2="88.3" y2="363.9" stroke="#0000ff" stroke-width="1.25"/>
<text transform="translate(91.20,345.00) rotate(0.35)" font-size="8.3" fill="#1a1a1a" textLength="31.2" lengthAdjust="spacingAndGlyphs" stroke="#1a1a1a" stroke-width="0.15">Innenring</text>
<text transform="translate(91.20,367.60) rotate(0.35)" font-size="8.3" fill="#1a1a1a" textLength="36.1" lengthAdjust="spacingAndGlyphs" stroke="#1a1a1a" stroke-width="0.15">Aussenring</text>
<polyline points="57.8,363.6 56.7,349.6 59.8,335.9 58.6,316.9 67.7,300.2 84.0,289.6 103.5,285.8 123.0,289.4 139.0,300.6 147.1,317.9 147.4,335.9 150.5,349.6" fill="none" stroke="#ff0000" stroke-width="1.1" stroke-linejoin="round"/>
<polyline points="59.8,335.9 60.3,318.3 69.0,302.1 84.7,291.8 103.5,288.4 122.3,291.8 137.6,302.6 145.9,318.9 147.4,335.9" fill="none" stroke="#0000ff" stroke-width="1.1" stroke-linejoin="round"/>
<polygon points="43.8,366.3 35.1,347.6 34.6,325.7 42.6,304.1 58.0,285.9 79.3,274.2 103.5,270.4 127.7,274.2 148.6,286.5 163.8,304.6 172.1,325.8 171.4,347.6 163.3,366.3 146.6,377.6 135.6,387.6 124.0,395.4 110.6,399.6 96.6,399.6 83.2,395.4 71.6,387.6 58.6,378.6" fill="none" stroke="#ff0000" stroke-width="1.1" stroke-linejoin="round"/>
<polygon points="44.7,366.1 37.7,347.8 37.7,326.9 45.6,306.5 60.1,289.1 80.5,278.3 103.5,274.5 126.5,278.3 146.5,289.7 161.0,306.9 168.6,327.2 168.1,347.9 161.2,365.9 145.8,377.1 135.6,387.6 124.0,395.4 110.6,399.6 96.6,399.6 83.2,395.4 71.6,387.6 59.5,378.1" fill="none" stroke="#0000ff" stroke-width="1.1" stroke-linejoin="round"/>
<text transform="translate(104.00,459.50) rotate(0.35)" font-size="8.3" fill="#1a1a1a" text-anchor="middle" textLength="28.0" lengthAdjust="spacingAndGlyphs" stroke="#1a1a1a" stroke-width="0.15">Bearing3</text>
</g>
<g>
<circle cx="309.65" cy="352.2" r="58.2" fill="none" stroke="#cbcbcb" stroke-width="0.75"/>
<circle cx="309.65" cy="352.2" r="70.6" fill="none" stroke="#bfbfbf" stroke-width="0.75"/>
<circle cx="309.65" cy="352.2" r="82.0" fill="none" stroke="#cbcbcb" stroke-width="0.75"/>
<circle cx="309.65" cy="352.2" r="93.3" fill="none" stroke="#b9b9b9" stroke-width="0.75"/>
<text transform="translate(309.40,259.40) rotate(0.35)" font-size="8.2" fill="#a2a2a2" text-anchor="middle" textLength="29.3" lengthAdjust="spacingAndGlyphs">2000MPa</text>
<text transform="translate(310.00,281.80) rotate(0.35)" font-size="8.2" fill="#a2a2a2" text-anchor="middle" textLength="29.0" lengthAdjust="spacingAndGlyphs">1000MPa</text>
<circle cx="309.60" cy="306.00" r="10.0" fill="#bcbcbc" stroke="#1c1c1c" stroke-width="1.3"/>
<text transform="translate(310.60,310.70) rotate(0.4) scale(0.87,1)" text-anchor="middle" font-size="9.2" fill="#3a3a3a" stroke="#3a3a3a" stroke-width="0.28">1</text>
<circle cx="331.35" cy="311.36" r="10.0" fill="#bcbcbc" stroke="#1c1c1c" stroke-width="1.3"/>
<text transform="translate(332.35,316.06) rotate(0.4) scale(0.87,1)" text-anchor="middle" font-size="9.2" fill="#3a3a3a" stroke="#3a3a3a" stroke-width="0.28">2</text>
<circle cx="348.12" cy="326.21" r="10.0" fill="#bcbcbc" stroke="#1c1c1c" stroke-width="1.3"/>
<text transform="translate(349.12,330.91) rotate(0.4) scale(0.87,1)" text-anchor="middle" font-size="9.2" fill="#3a3a3a" stroke="#3a3a3a" stroke-width="0.28">3</text>
<circle cx="356.06" cy="347.16" r="10.0" fill="#bcbcbc" stroke="#1c1c1c" stroke-width="1.3"/>
<text transform="translate(357.06,351.86) rotate(0.4) scale(0.87,1)" text-anchor="middle" font-size="9.2" fill="#3a3a3a" stroke="#3a3a3a" stroke-width="0.28">4</text>
<circle cx="353.36" cy="369.40" r="10.0" fill="#bcbcbc" stroke="#1c1c1c" stroke-width="1.3"/>
<text transform="translate(354.36,374.10) rotate(0.4) scale(0.87,1)" text-anchor="middle" font-size="9.2" fill="#3a3a3a" stroke="#3a3a3a" stroke-width="0.28">5</text>
<circle cx="340.63" cy="387.83" r="10.0" fill="#bcbcbc" stroke="#1c1c1c" stroke-width="1.3"/>
<text transform="translate(341.63,392.53) rotate(0.4) scale(0.87,1)" text-anchor="middle" font-size="9.2" fill="#3a3a3a" stroke="#3a3a3a" stroke-width="0.28">6</text>
<circle cx="320.80" cy="398.24" r="10.0" fill="#bcbcbc" stroke="#1c1c1c" stroke-width="1.3"/>
<text transform="translate(321.80,402.94) rotate(0.4) scale(0.87,1)" text-anchor="middle" font-size="9.2" fill="#3a3a3a" stroke="#3a3a3a" stroke-width="0.28">7</text>
<circle cx="298.40" cy="398.24" r="10.0" fill="#bcbcbc" stroke="#1c1c1c" stroke-width="1.3"/>
<text transform="translate(299.40,402.94) rotate(0.4) scale(0.87,1)" text-anchor="middle" font-size="9.2" fill="#3a3a3a" stroke="#3a3a3a" stroke-width="0.28">8</text>
<circle cx="278.57" cy="387.83" r="10.0" fill="#bcbcbc" stroke="#1c1c1c" stroke-width="1.3"/>
<text transform="translate(279.57,392.53) rotate(0.4) scale(0.87,1)" text-anchor="middle" font-size="9.2" fill="#3a3a3a" stroke="#3a3a3a" stroke-width="0.28">9</text>
<circle cx="265.84" cy="369.40" r="10.0" fill="#bcbcbc" stroke="#1c1c1c" stroke-width="1.3"/>
<text transform="translate(266.84,374.10) rotate(0.4) scale(0.87,1)" text-anchor="middle" font-size="9.2" fill="#3a3a3a" stroke="#3a3a3a" stroke-width="0.28">10</text>
<circle cx="263.14" cy="347.16" r="10.0" fill="#bcbcbc" stroke="#1c1c1c" stroke-width="1.3"/>
<text transform="translate(264.14,351.86) rotate(0.4) scale(0.87,1)" text-anchor="middle" font-size="9.2" fill="#3a3a3a" stroke="#3a3a3a" stroke-width="0.28">11</text>
<circle cx="271.08" cy="326.21" r="10.0" fill="#bcbcbc" stroke="#1c1c1c" stroke-width="1.3"/>
<text transform="translate(272.08,330.91) rotate(0.4) scale(0.87,1)" text-anchor="middle" font-size="9.2" fill="#3a3a3a" stroke="#3a3a3a" stroke-width="0.28">12</text>
<circle cx="287.85" cy="311.36" r="10.0" fill="#bcbcbc" stroke="#1c1c1c" stroke-width="1.3"/>
<text transform="translate(288.85,316.06) rotate(0.4) scale(0.87,1)" text-anchor="middle" font-size="9.2" fill="#3a3a3a" stroke="#3a3a3a" stroke-width="0.28">13</text>
<path d="M309.4 317.7 V352.7 H345.0" fill="none" stroke="#a6a6a6" stroke-width="1.0"/>
<path d="M308.2 319.9 L309.4 317.7 L310.59999999999997 319.9" fill="none" stroke="#a6a6a6" stroke-width="0.7"/>
<path d="M342.8 351.5 L345.0 352.7 L342.8 353.9" fill="none" stroke="#a6a6a6" stroke-width="0.7"/>
<text transform="translate(309.90,327.50) rotate(0.35)" font-size="7.6" fill="#a2a2a2">y</text>
<text transform="translate(340.00,351.80) rotate(0.35)" font-size="7.6" fill="#a2a2a2">z</text>
<line x1="299.0" y1="341.4" x2="303.7" y2="341.4" stroke="#ff0000" stroke-width="1.25"/>
<line x1="299.0" y1="363.9" x2="303.7" y2="363.9" stroke="#0000ff" stroke-width="1.25"/>
<text transform="translate(306.80,345.00) rotate(0.35)" font-size="8.3" fill="#1a1a1a" textLength="31.2" lengthAdjust="spacingAndGlyphs" stroke="#1a1a1a" stroke-width="0.15">Innenring</text>
<text transform="translate(306.80,367.60) rotate(0.35)" font-size="8.3" fill="#1a1a1a" textLength="36.1" lengthAdjust="spacingAndGlyphs" stroke="#1a1a1a" stroke-width="0.15">Aussenring</text>
<polyline points="356.1,347.2 353.4,369.4 353.2,402.1 327.1,424.5 291.2,426.5 261.0,407.3 250.1,375.2 263.1,347.2" fill="none" stroke="#ff0000" stroke-width="1.1" stroke-linejoin="round"/>
<polyline points="353.4,369.4 351.0,399.6 325.9,419.8 292.5,421.2 264.1,403.8 252.7,374.2 263.1,347.2" fill="none" stroke="#0000ff" stroke-width="1.1" stroke-linejoin="round"/>
<polyline points="356.1,347.2 373.5,377.0 361.7,411.7 329.6,434.8 288.7,436.7 253.5,415.8 237.8,379.9 244.4,344.8 271.1,326.2 287.9,311.4" fill="none" stroke="#ff0000" stroke-width="1.1" stroke-linejoin="round"/>
<polyline points="348.1,326.2 356.1,347.2 369.9,375.6 358.1,407.6 328.0,428.1 290.5,429.5 258.3,410.3 242.5,378.1 247.6,345.2 271.1,326.2 287.9,311.4" fill="none" stroke="#0000ff" stroke-width="1.1" stroke-linejoin="round"/>
<text transform="translate(309.90,459.50) rotate(0.35)" font-size="8.3" fill="#1a1a1a" text-anchor="middle" textLength="28.0" lengthAdjust="spacingAndGlyphs" stroke="#1a1a1a" stroke-width="0.15">Bearing5</text>
</g>
<g>
<circle cx="515.65" cy="352.2" r="58.2" fill="none" stroke="#cbcbcb" stroke-width="0.75"/>
<circle cx="515.65" cy="352.2" r="70.6" fill="none" stroke="#bfbfbf" stroke-width="0.75"/>
<circle cx="515.65" cy="352.2" r="82.0" fill="none" stroke="#cbcbcb" stroke-width="0.75"/>
<circle cx="515.65" cy="352.2" r="93.3" fill="none" stroke="#b9b9b9" stroke-width="0.75"/>
<text transform="translate(515.40,259.40) rotate(0.35)" font-size="8.2" fill="#a2a2a2" text-anchor="middle" textLength="29.3" lengthAdjust="spacingAndGlyphs">2000MPa</text>
<text transform="translate(516.00,281.80) rotate(0.35)" font-size="8.2" fill="#a2a2a2" text-anchor="middle" textLength="29.0" lengthAdjust="spacingAndGlyphs">1000MPa</text>
<circle cx="515.60" cy="306.00" r="10.0" fill="#bcbcbc" stroke="#1c1c1c" stroke-width="1.3"/>
<text transform="translate(516.60,310.70) rotate(0.4) scale(0.87,1)" text-anchor="middle" font-size="9.2" fill="#3a3a3a" stroke="#3a3a3a" stroke-width="0.28">1</text>
<circle cx="537.35" cy="311.36" r="10.0" fill="#bcbcbc" stroke="#1c1c1c" stroke-width="1.3"/>
<text transform="translate(538.35,316.06) rotate(0.4) scale(0.87,1)" text-anchor="middle" font-size="9.2" fill="#3a3a3a" stroke="#3a3a3a" stroke-width="0.28">2</text>
<circle cx="554.12" cy="326.21" r="10.0" fill="#bcbcbc" stroke="#1c1c1c" stroke-width="1.3"/>
<text transform="translate(555.12,330.91) rotate(0.4) scale(0.87,1)" text-anchor="middle" font-size="9.2" fill="#3a3a3a" stroke="#3a3a3a" stroke-width="0.28">3</text>
<circle cx="562.06" cy="347.16" r="10.0" fill="#bcbcbc" stroke="#1c1c1c" stroke-width="1.3"/>
<text transform="translate(563.06,351.86) rotate(0.4) scale(0.87,1)" text-anchor="middle" font-size="9.2" fill="#3a3a3a" stroke="#3a3a3a" stroke-width="0.28">4</text>
<circle cx="559.36" cy="369.40" r="10.0" fill="#bcbcbc" stroke="#1c1c1c" stroke-width="1.3"/>
<text transform="translate(560.36,374.10) rotate(0.4) scale(0.87,1)" text-anchor="middle" font-size="9.2" fill="#3a3a3a" stroke="#3a3a3a" stroke-width="0.28">5</text>
<circle cx="546.63" cy="387.83" r="10.0" fill="#bcbcbc" stroke="#1c1c1c" stroke-width="1.3"/>
<text transform="translate(547.63,392.53) rotate(0.4) scale(0.87,1)" text-anchor="middle" font-size="9.2" fill="#3a3a3a" stroke="#3a3a3a" stroke-width="0.28">6</text>
<circle cx="526.80" cy="398.24" r="10.0" fill="#bcbcbc" stroke="#1c1c1c" stroke-width="1.3"/>
<text transform="translate(527.80,402.94) rotate(0.4) scale(0.87,1)" text-anchor="middle" font-size="9.2" fill="#3a3a3a" stroke="#3a3a3a" stroke-width="0.28">7</text>
<circle cx="504.40" cy="398.24" r="10.0" fill="#bcbcbc" stroke="#1c1c1c" stroke-width="1.3"/>
<text transform="translate(505.40,402.94) rotate(0.4) scale(0.87,1)" text-anchor="middle" font-size="9.2" fill="#3a3a3a" stroke="#3a3a3a" stroke-width="0.28">8</text>
<circle cx="484.57" cy="387.83" r="10.0" fill="#bcbcbc" stroke="#1c1c1c" stroke-width="1.3"/>
<text transform="translate(485.57,392.53) rotate(0.4) scale(0.87,1)" text-anchor="middle" font-size="9.2" fill="#3a3a3a" stroke="#3a3a3a" stroke-width="0.28">9</text>
<circle cx="471.84" cy="369.40" r="10.0" fill="#bcbcbc" stroke="#1c1c1c" stroke-width="1.3"/>
<text transform="translate(472.84,374.10) rotate(0.4) scale(0.87,1)" text-anchor="middle" font-size="9.2" fill="#3a3a3a" stroke="#3a3a3a" stroke-width="0.28">10</text>
<circle cx="469.14" cy="347.16" r="10.0" fill="#bcbcbc" stroke="#1c1c1c" stroke-width="1.3"/>
<text transform="translate(470.14,351.86) rotate(0.4) scale(0.87,1)" text-anchor="middle" font-size="9.2" fill="#3a3a3a" stroke="#3a3a3a" stroke-width="0.28">11</text>
<circle cx="477.08" cy="326.21" r="10.0" fill="#bcbcbc" stroke="#1c1c1c" stroke-width="1.3"/>
<text transform="translate(478.08,330.91) rotate(0.4) scale(0.87,1)" text-anchor="middle" font-size="9.2" fill="#3a3a3a" stroke="#3a3a3a" stroke-width="0.28">12</text>
<circle cx="493.85" cy="311.36" r="10.0" fill="#bcbcbc" stroke="#1c1c1c" stroke-width="1.3"/>
<text transform="translate(494.85,316.06) rotate(0.4) scale(0.87,1)" text-anchor="middle" font-size="9.2" fill="#3a3a3a" stroke="#3a3a3a" stroke-width="0.28">13</text>
<path d="M515.4 317.7 V352.7 H551.0" fill="none" stroke="#a6a6a6" stroke-width="1.0"/>
<path d="M514.1999999999999 319.9 L515.4 317.7 L516.6 319.9" fill="none" stroke="#a6a6a6" stroke-width="0.7"/>
<path d="M548.8 351.5 L551.0 352.7 L548.8 353.9" fill="none" stroke="#a6a6a6" stroke-width="0.7"/>
<text transform="translate(515.90,327.50) rotate(0.35)" font-size="7.6" fill="#a2a2a2">y</text>
<text transform="translate(546.00,351.80) rotate(0.35)" font-size="7.6" fill="#a2a2a2">z</text>
<line x1="505.7" y1="341.4" x2="510.4" y2="341.4" stroke="#ff0000" stroke-width="1.25"/>
<line x1="505.7" y1="363.9" x2="510.4" y2="363.9" stroke="#0000ff" stroke-width="1.25"/>
<text transform="translate(513.40,345.00) rotate(0.35)" font-size="8.3" fill="#1a1a1a" textLength="31.2" lengthAdjust="spacingAndGlyphs" stroke="#1a1a1a" stroke-width="0.15">Innenring</text>
<text transform="translate(513.40,367.60) rotate(0.35)" font-size="8.3" fill="#1a1a1a" textLength="36.1" lengthAdjust="spacingAndGlyphs" stroke="#1a1a1a" stroke-width="0.15">Aussenring</text>
<polyline points="477.1,326.2 448.9,344.6 444.9,379.4 463.0,411.8 496.6,429.0 533.0,424.0 557.0,399.7 559.4,369.4" fill="none" stroke="#ff0000" stroke-width="1.1" stroke-linejoin="round"/>
<polyline points="477.1,326.2 452.4,345.0 449.7,377.6 466.7,407.7 498.0,423.1 531.8,419.3 554.9,397.3 559.4,369.4" fill="none" stroke="#0000ff" stroke-width="1.1" stroke-linejoin="round"/>
<text transform="translate(515.90,459.50) rotate(0.35)" font-size="8.3" fill="#1a1a1a" text-anchor="middle" textLength="28.0" lengthAdjust="spacingAndGlyphs" stroke="#1a1a1a" stroke-width="0.15">Bearing6</text>
</g>
</svg>
</body></html>
